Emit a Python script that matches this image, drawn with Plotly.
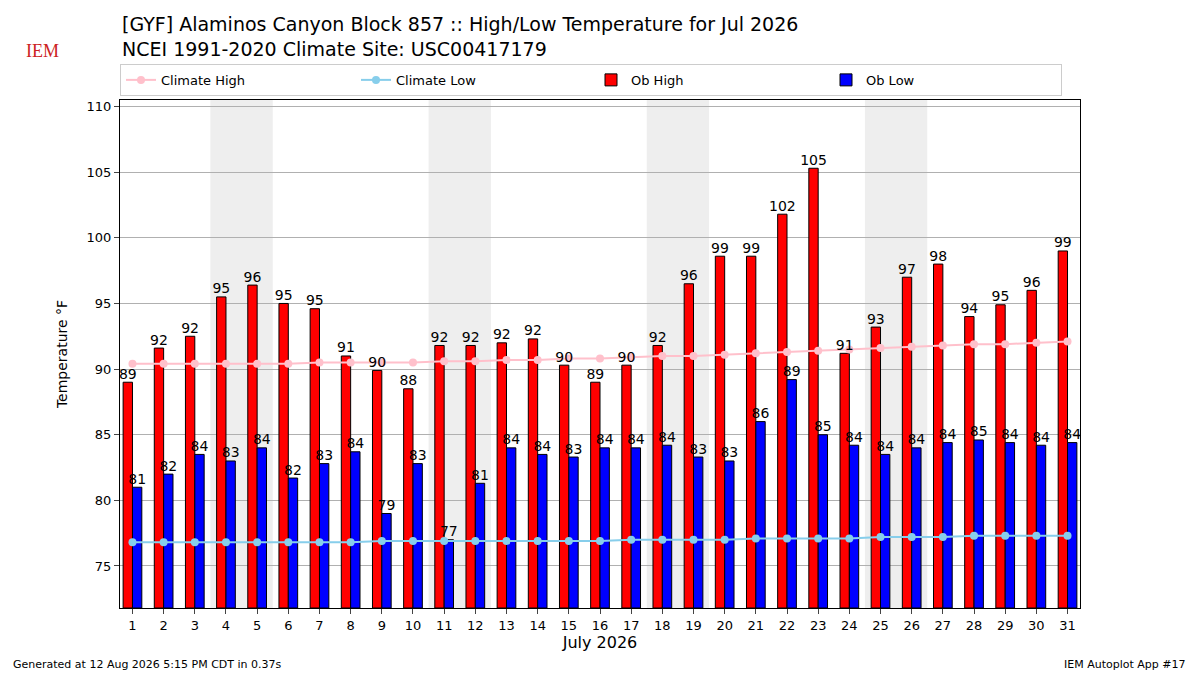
import plotly.graph_objects as go

days = list(range(1, 32))
ob_high = [89.0, 91.6, 92.5, 95.5, 96.4, 95.0, 94.6, 91.0, 89.9, 88.5, 91.8, 91.8, 92.0, 92.3, 90.3, 89.0,
           90.3, 91.8, 96.5, 98.6, 98.6, 101.8, 105.3, 91.2, 93.2, 97.0, 98.0, 94.0, 94.9, 96.0, 99.0]
high_labels = [89, 92, 92, 95, 96, 95, 95, 91, 90, 88, 92, 92, 92, 92, 90, 89, 90, 92, 96, 99, 99, 102,
               105, 91, 93, 97, 98, 94, 95, 96, 99]
ob_low = [81.0, 82.0, 83.5, 83.0, 84.0, 81.7, 82.8, 83.7, 79.0, 82.8, 77.0, 81.3, 84.0, 83.5, 83.3, 84.0,
          84.0, 84.2, 83.3, 83.0, 86.0, 89.2, 85.0, 84.2, 83.5, 84.0, 84.4, 84.6, 84.4, 84.2, 84.4]
low_labels = [81, 82, 84, 83, 84, 82, 83, 84, 79, 83, 77, 81, 84, 84, 83, 84, 84, 84, 83, 83, 86, 89, 85,
              84, 84, 84, 84, 85, 84, 84, 84]
clim_high = [90.4, 90.4, 90.4, 90.4, 90.4, 90.4, 90.5, 90.5, 90.5, 90.5, 90.6, 90.6, 90.7, 90.7, 90.8, 90.8,
             90.9, 91.0, 91.0, 91.1, 91.2, 91.3, 91.4, 91.5, 91.6, 91.7, 91.8, 91.9, 91.9, 92.0, 92.1]
clim_low = [76.8, 76.8, 76.8, 76.8, 76.8, 76.8, 76.8, 76.8, 76.9, 76.9, 76.9, 76.9, 76.9, 76.9, 76.9, 76.9,
            77.0, 77.0, 77.0, 77.0, 77.1, 77.1, 77.1, 77.1, 77.2, 77.2, 77.2, 77.3, 77.3, 77.3, 77.3]
weekends = [(4, 5), (11, 12), (18, 19), (25, 26)]
ymin, ymax = 71.8, 110.5

fig = go.Figure()
for a, b in weekends:
    fig.add_shape(type="rect", x0=a - 0.5, x1=b + 0.5, y0=0, y1=1, yref="y domain", xref="x",
                  fillcolor="#eeeeee", line_width=0, layer="below")

fig.add_trace(go.Bar(x=days, y=[v - ymin for v in ob_high], base=ymin, width=0.3, offset=-0.3, name="Ob High",
                     legendrank=3, marker=dict(color="red", line=dict(color="black", width=1))))
fig.add_trace(go.Bar(x=days, y=[v - ymin for v in ob_low], base=ymin, width=0.3, offset=0, name="Ob Low",
                     legendrank=4, marker=dict(color="blue", line=dict(color="black", width=1))))
fig.add_trace(go.Scatter(x=days, y=clim_high, mode="lines+markers", name="Climate High", legendrank=1,
                         line=dict(color="pink", width=2), marker=dict(color="pink", size=8)))
fig.add_trace(go.Scatter(x=days, y=clim_low, mode="lines+markers", name="Climate Low", legendrank=2,
                         line=dict(color="skyblue", width=2), marker=dict(color="skyblue", size=8)))
fig.add_trace(go.Scatter(x=[d - 0.15 for d in days], y=ob_high, mode="text", text=[str(v) for v in high_labels],
                         textposition="top center", textfont=dict(size=14, color="black"),
                         showlegend=False, hoverinfo="skip", cliponaxis=False))
fig.add_trace(go.Scatter(x=[d + 0.15 for d in days], y=ob_low, mode="text", text=[str(v) for v in low_labels],
                         textposition="top center", textfont=dict(size=14, color="black"),
                         showlegend=False, hoverinfo="skip", cliponaxis=False))

fig.update_layout(
    width=1200, height=675, plot_bgcolor="white", paper_bgcolor="white",
    font=dict(family="DejaVu Sans", size=13, color="black"),
    margin=dict(l=112, r=128, t=92, b=75, autoexpand=False),
    barmode="overlay",
    legend=dict(orientation="h", x=0, y=1.008, xanchor="left", yanchor="bottom",
                entrywidth=190, bordercolor="#cccccc", borderwidth=1, font=dict(size=13)),
    xaxis=dict(range=[0.6, 31.4], tickmode="array", tickvals=days, ticks="outside", automargin=False,
               showgrid=False, showline=True, linecolor="black", mirror=True,
               title=dict(text="July 2026", font=dict(size=16), standoff=5)),
    yaxis=dict(range=[ymin, ymax], tickvals=[75, 80, 85, 90, 95, 100, 105, 110], ticks="outside",
               automargin=False, showgrid=True, gridcolor="#b0b0b0", showline=True, linecolor="black",
               mirror=True, zeroline=False, title=dict(text="Temperature °F", font=dict(size=14))),
)
fig.add_annotation(text="[GYF] Alaminos Canyon Block 857 :: High/Low Temperature for Jul 2026<br>NCEI 1991-2020 Climate Site: USC00417179",
                   xref="paper", yref="paper", x=0, y=1.176, xanchor="left", yanchor="top",
                   showarrow=False, align="left", font=dict(size=19))
fig.add_annotation(text="IEM", xref="paper", yref="paper", x=-0.1, y=1.12, xanchor="left",
                   showarrow=False, font=dict(size=18, color="#cc2222", family="Liberation Serif"))
fig.add_annotation(text="Generated at 12 Aug 2026 5:15 PM CDT in 0.37s", xref="paper", yref="paper",
                   x=-0.114, y=-0.112, xanchor="left", yanchor="middle", showarrow=False, font=dict(size=11))
fig.add_annotation(text="IEM Autoplot App #17", xref="paper", yref="paper",
                   x=1.113, y=-0.112, xanchor="right", yanchor="middle", showarrow=False, font=dict(size=11))
fig.write_html("out.html")
